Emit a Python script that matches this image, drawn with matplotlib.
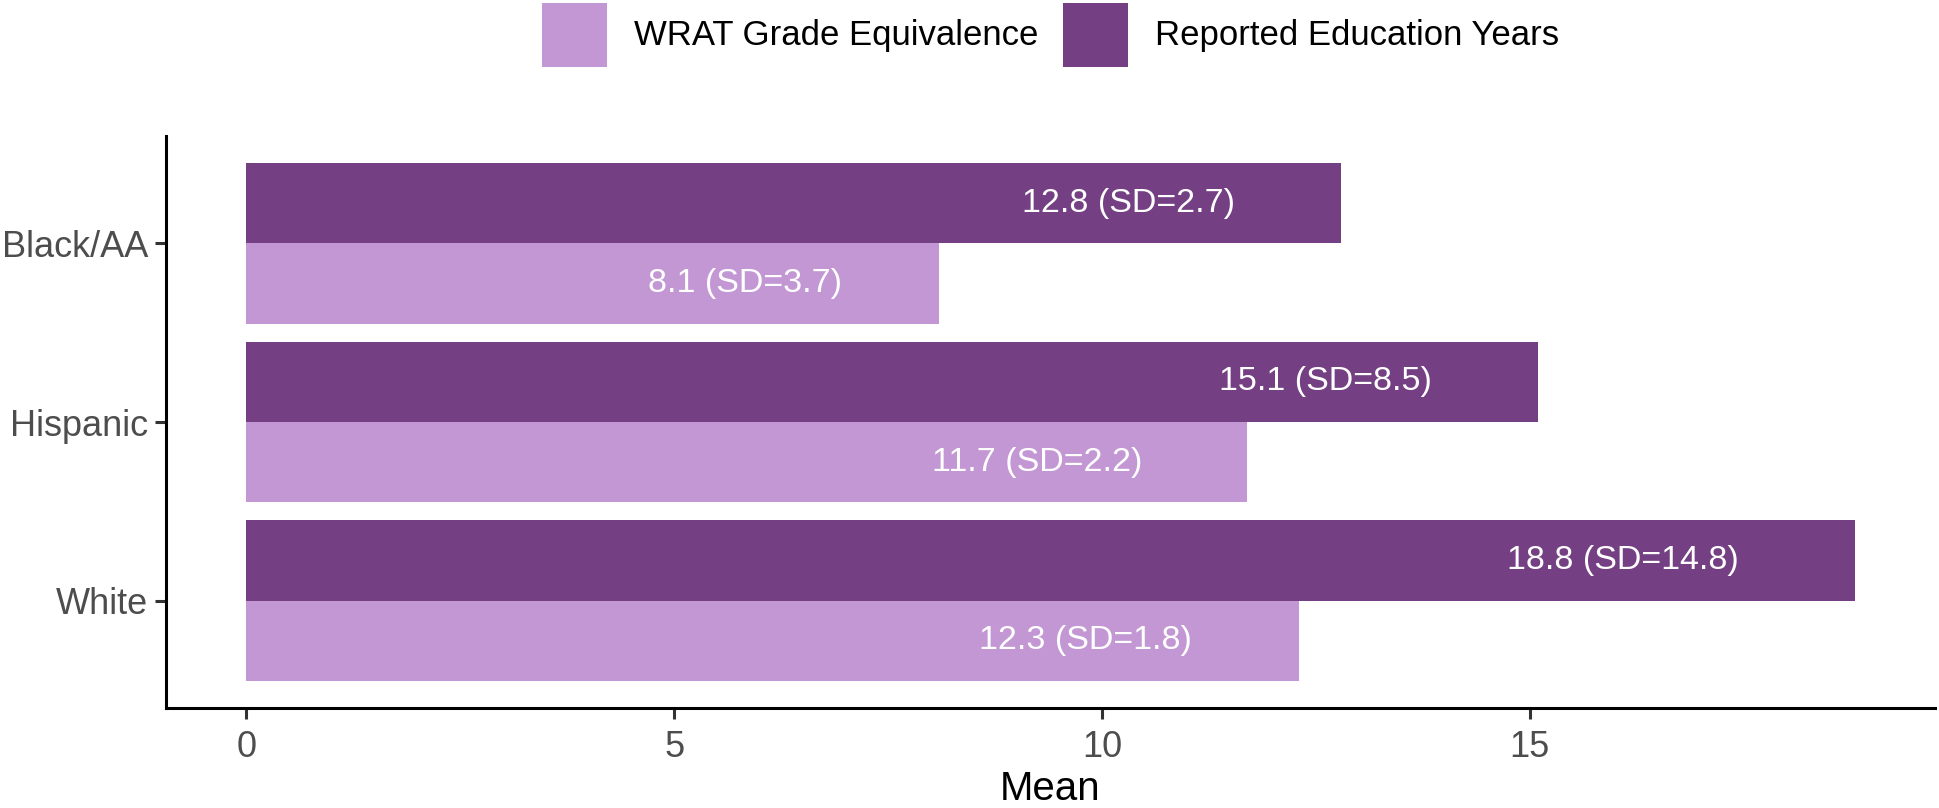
import matplotlib
matplotlib.use("Agg")
import matplotlib.pyplot as plt
from matplotlib.patches import Patch
import matplotlib.transforms as mtransforms
import numpy as np

plt.rcParams['font.family'] = ['Liberation Sans', 'DejaVu Sans']

# ---- data ----
categories = ["Black/AA", "Hispanic", "White"]
wrat_mean = [8.1, 11.7, 12.3]
wrat_sd = [3.7, 2.2, 1.8]
edu_mean = [12.8, 15.1, 18.8]
edu_sd = [2.7, 8.5, 14.8]
series_names = ["WRAT Grade Equivalence", "Reported Education Years"]
x_ticks = [0, 5, 10, 15]
x_label = "Mean"

# ---- style ----
light = "#C397D4"
dark = "#743F83"
W, H, DPI = 1939, 808, 100

fig = plt.figure(figsize=(W / DPI, H / DPI), dpi=DPI)
ax = fig.add_axes([166 / W, 1 - 708 / H, (1935 - 166) / W, (708 - 136) / H])

y = np.arange(len(categories))
bh = 0.45
ax.barh(y - bh / 2, edu_mean, height=bh, color=dark, linewidth=0)
ax.barh(y + bh / 2, wrat_mean, height=bh, color=light, linewidth=0)

mx = max(max(edu_mean), max(wrat_mean))
ax.set_xlim(-0.05 * mx, 1.05 * mx)
ax.set_ylim(len(categories) - 1 + 0.6, -0.6)
ax.set_yticks(y)
ax.set_yticklabels(categories)
ax.set_xticks(x_ticks)
ax.set_xticklabels([str(t) for t in x_ticks])

# labels: right-aligned, shifted left by half their width (like hjust = 1.5)
texts = []
for i in range(len(categories)):
    texts.append(ax.text(edu_mean[i], y[i] - bh / 2, f"{edu_mean[i]} (SD={edu_sd[i]})",
                         ha="right", va="center", color="white", fontsize=24.5))
    texts.append(ax.text(wrat_mean[i], y[i] + bh / 2, f"{wrat_mean[i]} (SD={wrat_sd[i]})",
                         ha="right", va="center", color="white", fontsize=24.5))

for s in ["top", "right"]:
    ax.spines[s].set_visible(False)
for s in ["left", "bottom"]:
    ax.spines[s].set_linewidth(2.2)
    ax.spines[s].set_color("black")
    ax.spines[s].set_capstyle("projecting")

ax.tick_params(axis="both", length=8, width=2.2, color="#333333",
               labelsize=26, labelcolor="#4D4D4D")
ax.tick_params(axis="y", pad=5)
ax.tick_params(axis="x", pad=8)
ax.set_xlabel(x_label, fontsize=29, color="black", labelpad=3.5)

handles = [Patch(facecolor=light, edgecolor="none", label=series_names[0]),
           Patch(facecolor=dark, edgecolor="none", label=series_names[1])]
ax_cx = (166 + 1935) / 2 / W
fig.legend(handles=handles, loc="upper center", bbox_to_anchor=(ax_cx, 1 - 2.5 / H),
           ncol=2, frameon=False, fontsize=25, handlelength=1.87, handleheight=2.46,
           handletextpad=0.78, columnspacing=0.72, borderpad=0, borderaxespad=0)

fig.canvas.draw()
r = fig.canvas.get_renderer()
for t in texts:
    w = t.get_window_extent(renderer=r).width
    t.set_transform(mtransforms.offset_copy(ax.transData, fig=fig, x=-0.5 * w, y=0, units="dots"))

fig.savefig("out.png", dpi=DPI)
